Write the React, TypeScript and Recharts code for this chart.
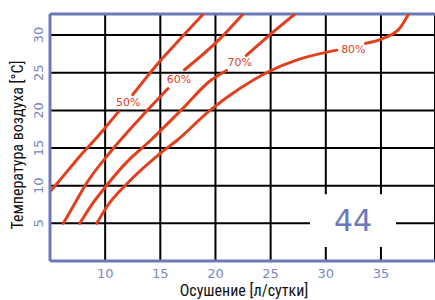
import React from 'react';
import { LineChart, Line, XAxis, YAxis, CartesianGrid, ReferenceArea, ReferenceDot, ReferenceLine } from 'recharts';

const xTicks = [10, 15, 20, 25, 30, 35];
const yTicks = [5, 10, 15, 20, 25, 30];

const rh50a = [
  { x: 5, y: 9.2 }, { x: 6.5, y: 11.8 }, { x: 8, y: 14.4 }, { x: 9, y: 16.0 }, { x: 10, y: 17.7 }, { x: 11.2, y: 19.8 },
];
const rh50b = [
  { x: 12.5, y: 22.1 }, { x: 15, y: 26.6 }, { x: 17, y: 29.8 }, { x: 18.9, y: 32.8 },
];
const rh60a = [
  { x: 6.2, y: 5 }, { x: 7, y: 7 }, { x: 8.3, y: 10.3 }, { x: 10.6, y: 14.7 }, { x: 13, y: 18.7 }, { x: 15.7, y: 22.9 },
];
const rh60b = [
  { x: 17.2, y: 25.4 }, { x: 20.4, y: 29.5 }, { x: 22.5, y: 32.8 },
];
const rh70a = [
  { x: 7.7, y: 5 }, { x: 8.7, y: 7.3 }, { x: 10, y: 9.8 }, { x: 12, y: 13.2 }, { x: 14.1, y: 16 }, { x: 17, y: 20.2 }, { x: 19.5, y: 23.9 }, { x: 21, y: 25.3 },
];
const rh70b = [
  { x: 22.8, y: 27.3 }, { x: 24.9, y: 30 }, { x: 27.2, y: 32.8 },
];
const rh80a = [
  { x: 9.25, y: 5 }, { x: 10.15, y: 7.2 }, { x: 12, y: 10.3 }, { x: 15, y: 14.3 }, { x: 16.5, y: 16 }, { x: 19.5, y: 20 }, { x: 22.2, y: 22.9 }, { x: 24.9, y: 25.2 }, { x: 27.4, y: 26.7 }, { x: 31, y: 28 },
];
const rh80b = [
  { x: 33.6, y: 28.9 }, { x: 35.1, y: 29.5 }, { x: 36.7, y: 30.9 }, { x: 37.5, y: 32.8 },
];

const segments = [rh50a, rh50b, rh60a, rh60b, rh70a, rh70b, rh80a, rh80b];

const curveLabels = [
  { x: 12.1, y: 21.1, text: '50%' },
  { x: 16.7, y: 24.1, text: '60%' },
  { x: 22.2, y: 26.4, text: '70%' },
  { x: 32.5, y: 28.2, text: '80%' },
];

const modelNumber = '44';
const xTitle = 'Осушение [л/сутки]';
const yTitle = 'Температура воздуха [°C]';

const BLUE = '#6c78b9';
const TICK_BLUE = '#7a86c6';
const RED = '#e2401c';
const NARROW = '"Liberation Sans Narrow", "Arial Narrow", "Roboto Condensed", sans-serif';

const YTick = (props: any) => {
  const { x, y, payload } = props;
  const bx = x + 1.5;
  return (
    <text
      x={bx}
      y={y}
      transform={`rotate(-90 ${bx} ${y})`}
      textAnchor="middle"
      fill={TICK_BLUE}
      fontSize={13}
      fontFamily="DejaVu Sans, sans-serif"
    >
      {payload.value}
    </text>
  );
};

export default function App() {
  return (
    <div style={{ position: 'absolute', left: 0, top: 0 }}>
      <LineChart width={435} height={300} margin={{ top: 14, right: 0, bottom: 0, left: 0 }}>
        <CartesianGrid stroke="#000" strokeWidth={2} />
        <XAxis
          type="number"
          dataKey="x"
          domain={[5, 39.9]}
          ticks={xTicks}
          allowDataOverflow
          height={39}
          tickLine={false}
          axisLine={{ stroke: BLUE, strokeWidth: 3 }}
          tick={{ fill: TICK_BLUE, fontSize: 13, fontFamily: 'DejaVu Sans, sans-serif' }}
          label={{
            content: () => (
              <text x={244} y={296} textAnchor="middle" fill="#111" fontSize={16} fontFamily={NARROW}>
                {xTitle}
              </text>
            ),
          }}
        />
        <YAxis
          type="number"
          dataKey="y"
          domain={[0, 32.8]}
          ticks={yTicks}
          allowDataOverflow
          width={50}
          tickLine={false}
          axisLine={{ stroke: BLUE, strokeWidth: 3 }}
          tick={<YTick />}
          label={{
            content: () => (
              <text
                x={23}
                y={145}
                transform="rotate(-90 23 145)"
                textAnchor="middle"
                fill="#111"
                fontSize={16}
                fontFamily={NARROW}
              >
                {yTitle}
              </text>
            ),
          }}
        />
        <ReferenceArea
          x1={28.57}
          x2={36.36}
          y1={1.85}
          y2={8.85}
          fill="#fff"
          fillOpacity={1}
          stroke="none"
          label={{ value: modelNumber, position: 'center', fill: BLUE, fontSize: 30, fontFamily: 'DejaVu Sans, sans-serif' }}
        />
        <ReferenceLine y={32.8} stroke={BLUE} strokeWidth={3} />
        {segments.map((seg, i) => (
          <Line
            key={i}
            data={seg}
            dataKey="y"
            type="monotone"
            stroke={RED}
            strokeWidth={3}
            strokeLinecap="round"
            dot={false}
            activeDot={false}
            isAnimationActive={false}
          />
        ))}
        {curveLabels.map((l) => (
          <ReferenceDot
            key={l.text}
            x={l.x}
            y={l.y}
            r={0}
            fill="none"
            stroke="none"
            label={{ value: l.text, position: 'center', fill: RED, fontSize: 11, fontFamily: 'DejaVu Sans, sans-serif' }}
          />
        ))}
      </LineChart>
    </div>
  );
}
